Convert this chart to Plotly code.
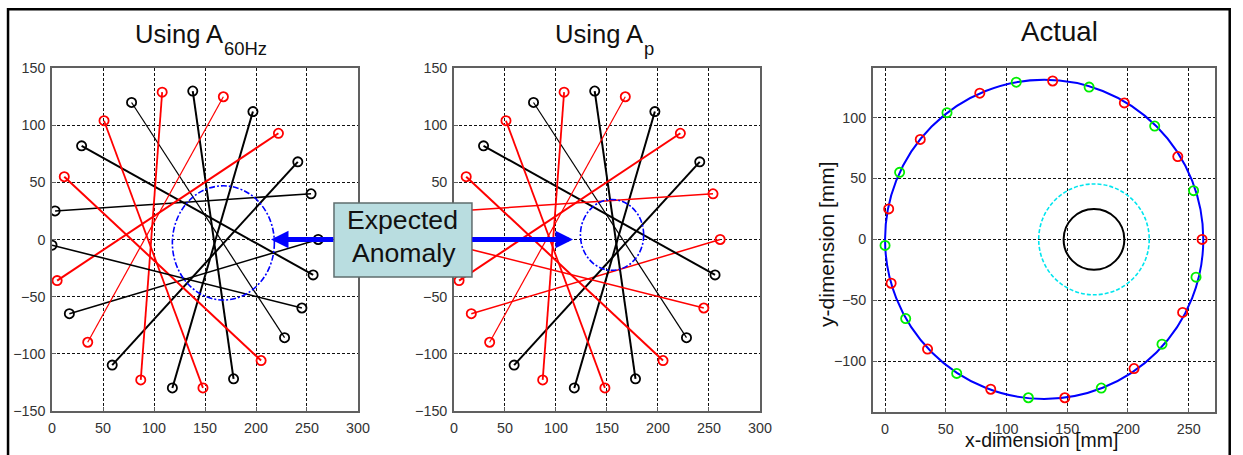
import plotly.graph_objects as go

W, H = 1243, 455

# Electrode positions on the tank boundary [mm], counter-clockwise from the right-hand side
elec_x = [261, 254, 241, 222, 197, 168, 138, 108, 78, 51, 29, 12, 3,
          0, 5, 17, 35, 59, 87, 118, 148, 178, 205, 228, 245, 256]
elec_y = [0, 40, 68, 93, 112, 125, 130, 129, 120, 104, 82, 55, 25,
          -5, -36, -65, -90, -110, -123, -130, -130, -122, -106, -86, -60, -31]

# Measurement pairs (electrode indices)
pair_a = [0, 2, 4, 6, 8, 10, 12, 14, 16, 18, 20, 22, 24]
pair_b = [15, 17, 19, 21, 23, 25, 1, 3, 5, 7, 9, 11, 13]

# Class of each pair for the two reconstructions ('k' / 'r')
class_60hz = ["k", "k", "k", "k", "k", "k", "k", "r", "r", "r", "r", "r", "k"]
class_ap = ["r", "k", "k", "k", "k", "k", "r", "r", "r", "r", "r", "r", "r"]

# Circles: (centre x, centre y, radius) in mm
est_60hz = (168, -3, 50)
est_ap = (155, 4, 31)
tank = (131, 0, 131)
anomaly = (172, 0, 25)
expected_zone = (172, 0, 45.5)

# line widths of the pair traces
pair_width = [1.5, 2, 2, 2, 1.2, 2, 1.5, 2, 1.2, 1.8, 1.8, 2, 1.6]

COL = {"k": "#000000", "r": "#ff0000"}
FONT = "Liberation Sans, Arial, sans-serif"

# canvas placement: the canvas is shown with a small page inset and fitted to the window
PAD_X, PAD_Y = 3, 8
SX = W / (W + 16)
SY = H / (H + 16)
FS = 1 / ((SX + SY) / 2)   # size factor for fonts


def fx(X):
    return X / SX - PAD_X


def fy(Y):
    return Y / SY - PAD_Y


def px(X):
    return fx(X) / W


def py(Y):
    return 1 - fy(Y) / H


fig = go.Figure()


def add_pairs(classes, xa, ya):
    for j, (a, b) in enumerate(zip(pair_a, pair_b)):
        c = COL[classes[j]]
        fig.add_trace(go.Scatter(
            x=[elec_x[a], elec_x[b]], y=[elec_y[a], elec_y[b]],
            mode="lines+markers", xaxis=xa, yaxis=ya,
            line=dict(color=c, width=pair_width[j]),
            marker=dict(symbol="circle-open", size=9.2, color=c,
                        line=dict(color=c, width=1.8)),
            showlegend=False, hoverinfo="skip"))


add_pairs(class_60hz, "x", "y")
add_pairs(class_ap, "x2", "y2")

# electrodes in the actual-tank panel
even = list(range(0, 26, 2))
odd = list(range(1, 26, 2))
for idx, c in ((even, "#ff0000"), (odd, "#00ee00")):
    fig.add_trace(go.Scatter(
        x=[elec_x[i] for i in idx], y=[elec_y[i] for i in idx],
        mode="markers", xaxis="x3", yaxis="y3",
        marker=dict(symbol="circle-open", size=9.2, color=c,
                    line=dict(color=c, width=1.8)),
        showlegend=False, hoverinfo="skip"))


def circle(spec, xref, yref, color, width, dash, layer):
    cx, cy, r = spec
    return dict(type="circle", xref=xref, yref=yref,
                x0=cx - r, x1=cx + r, y0=cy - r, y1=cy + r,
                line=dict(color=color, width=width, dash=dash), layer=layer)


shapes = [
    circle(est_60hz, "x", "y", "#0000ff", 1.6, "6px,2px,2px,2px", "above"),
    circle(est_ap, "x2", "y2", "#0000ff", 1.6, "6px,2px,2px,2px", "above"),
    circle(tank, "x3", "y3", "#0000ff", 2, "solid", "between"),
    circle(expected_zone, "x3", "y3", "#00e5ee", 1.6, "4px,2px", "between"),
    circle(anomaly, "x3", "y3", "#000000", 2, "solid", "between"),
    # callout box
    dict(type="rect", xref="paper", yref="paper",
         x0=px(333), x1=px(471), y0=py(277), y1=py(203),
         fillcolor="#b9dde0", line=dict(color="#5f6d6e", width=1.5), layer="above"),
    # outer frame, kept on the canvas
    dict(type="rect", xref="paper", yref="paper",
         x0=max(px(7), 1.3 / W), x1=min(px(1241), (W - 1.3) / W),
         y0=-0.1, y1=min(py(7), 1 - 1.3 / H),
         line=dict(color="#000000", width=2.5), fillcolor="rgba(0,0,0,0)", layer="above"),
]

axis_common = dict(
    showgrid=True, gridcolor="#111111", gridwidth=1, griddash="3px,2px",
    showline=True, linecolor="#606060", linewidth=1.5, mirror=True,
    ticks="inside", ticklen=4, tickcolor="#606060", zeroline=False,
    tickfont=dict(family=FONT, size=14 * FS, color="#333333"),
)
xstand = dict(ticklabelstandoff=3)
ystand = dict(ticklabelstandoff=2)

layout = dict(
    width=W, height=H, margin=dict(l=0, r=0, t=0, b=0),
    paper_bgcolor="white", plot_bgcolor="white", showlegend=False,
    xaxis=dict(domain=[px(51), px(357)], range=[0, 300],
               tickvals=[0, 50, 100, 150, 200, 250, 300], anchor="y",
               **xstand, **axis_common),
    yaxis=dict(domain=[py(411), py(68)], range=[-150, 150],
               tickvals=[-150, -100, -50, 0, 50, 100, 150], anchor="x",
               **ystand, **axis_common),
    xaxis2=dict(domain=[px(453), px(759)], range=[0, 300],
                tickvals=[0, 50, 100, 150, 200, 250, 300], anchor="y2",
                **xstand, **axis_common),
    yaxis2=dict(domain=[py(411), py(68)], range=[-150, 150],
                tickvals=[-150, -100, -50, 0, 50, 100, 150], anchor="x2",
                **ystand, **axis_common),
    xaxis3=dict(domain=[px(872), px(1214)], range=[-10, 271.5],
                tickvals=[0, 50, 100, 150, 200, 250], anchor="y3",
                **xstand, **axis_common),
    yaxis3=dict(domain=[py(412), py(68)], range=[-141.5, 140.5],
                tickvals=[-100, -50, 0, 50, 100], anchor="x3",
                **ystand, **axis_common),
    shapes=shapes,
)
fig.update_layout(**layout)

ann = []


def text(t, x, y, size, xanchor="center", yanchor="middle", angle=0, color="#111111"):
    ann.append(dict(text=t, x=px(x), y=py(y), xref="paper", yref="paper",
                    xanchor=xanchor, yanchor=yanchor, showarrow=False,
                    textangle=angle, borderpad=0,
                    font=dict(family=FONT, size=size * FS, color=color)))


# panel titles
text("Using A", 224, 34, 25, xanchor="right")
text("60Hz", 222, 48.5, 18, xanchor="left")
text("Using A", 644, 34, 25, xanchor="right")
text("p", 642, 48.5, 18, xanchor="left")
text("Actual", 1059, 31.5, 27)

# axis labels of the actual-tank panel
text("x-dimension [mm]", 1041, 440.5, 19)
text("y-dimension [mm]", 826, 244, 20.5, angle=-90)

# callout text, two stacked lines
text("Expected", 402, 236, 26, yanchor="bottom")
text("Anomaly", 403, 237, 26, yanchor="top")

# callout arrows
ann.append(dict(x=214.7, y=0, xref="x", yref="y", ax=63 / SX, ay=0, text="",
                showarrow=True, arrowhead=2, arrowwidth=5, arrowsize=0.7,
                arrowcolor="#0000ff", standoff=0))
ann.append(dict(x=116.7, y=0, xref="x2", yref="y2", ax=-101 / SX, ay=0, text="",
                showarrow=True, arrowhead=2, arrowwidth=5, arrowsize=0.7,
                arrowcolor="#0000ff", standoff=0))

fig.update_layout(annotations=ann)
fig.write_html("out.html")
